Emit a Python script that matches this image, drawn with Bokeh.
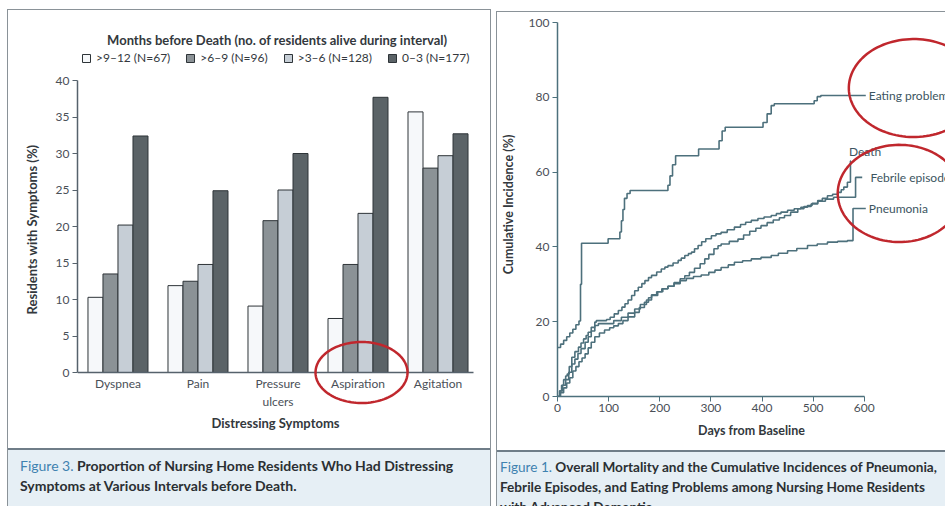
import numpy as np
from bokeh.plotting import figure
from bokeh.models import (Range1d, FixedTicker, Label, Legend, LegendItem,
                          PolyAnnotation, Div)
from bokeh.layouts import row, column
from bokeh.embed import file_html
from bokeh.resources import INLINE

# ---------------- Figure 3 data (bar chart) ----------------
symptoms = ["Dyspnea", "Pain", "Pressure\nulcers", "Aspiration", "Agitation"]
intervals = [">9–12 (N=67)", ">6–9 (N=96)", ">3–6 (N=128)", "0–3 (N=177)"]
pct_9_12 = [10.3, 11.9, 9.1, 7.4, 35.7]
pct_6_9 = [13.5, 12.5, 20.8, 14.8, 28.0]
pct_3_6 = [20.2, 14.8, 25.0, 21.8, 29.7]
pct_0_3 = [32.4, 24.9, 30.0, 37.7, 32.7]
bar_y_ticks = [0, 5, 10, 15, 20, 25, 30, 35, 40]

# ---------------- Figure 1 data (cumulative incidence) ----------------
death_days = [0, 4, 8, 12, 16, 19, 23, 28, 34, 41, 46, 51, 56, 60, 66, 73, 76, 96, 103, 111, 119, 126,
              132, 138, 145, 151, 158, 165, 171, 178, 184, 194, 203, 210, 216, 226, 236, 242, 249, 256,
              262, 268, 275, 282, 290, 301, 310, 320, 332, 346, 358, 368, 379, 392, 404, 418, 428, 437,
              450, 463, 476, 489, 498, 509, 518, 528, 538, 548, 555, 560, 567, 573, 574]
death_pct = [0, 1.5, 3, 4.5, 5.5, 6, 8, 10.5, 12, 13.2, 14.3, 15.4, 16.3, 17.2, 18.5, 19.9, 20.3, 20.6,
             21.2, 22.1, 23, 23.9, 24.8, 25.8, 27, 28.3, 29.2, 30.2, 31, 31.8, 32.4, 33.3, 34.1, 34.6, 35,
             35.7, 36.4, 37, 37.7, 38.2, 38.6, 39.5, 40.4, 41.4, 42.2, 43, 43.5, 43.9, 44.6, 45.3, 46, 46.6,
             47.1, 47.6, 48, 48.4, 48.9, 49.3, 49.8, 50.2, 50.6, 51.1, 51.7, 52.4, 53, 53.7, 54.1, 54.6,
             55.3, 56, 57.3, 63, 63]
febrile_days = [0, 5, 10, 16, 22, 28, 34, 40, 46, 54, 60, 66, 73, 80, 110, 125, 138, 151, 162, 174, 184,
                196, 206, 216, 228, 240, 249, 258, 268, 279, 288, 296, 306, 314, 320, 336, 353, 364, 376,
                388, 398, 410, 422, 434, 444, 456, 470, 482, 496, 509, 524, 540, 583, 596]
febrile_pct = [0, 1.5, 3, 4.5, 6.5, 8.7, 10, 11.5, 12.8, 14.5, 16, 17.5, 19, 19.5, 20.3, 21.2, 22.3, 23.4,
               24.6, 25.8, 27, 28, 28.8, 29.5, 30.5, 31.5, 32.3, 33.2, 34.3, 35.5, 36.8, 38, 39.5, 40.3,
               40.8, 41.5, 42.1, 43.2, 44.2, 45, 45.7, 46.5, 47.2, 47.8, 48.4, 49.3, 50.2, 50.8, 51.5, 52.2,
               52.8, 53.3, 58.6, 58.6]
pneumonia_days = [0, 6, 12, 18, 24, 30, 36, 42, 48, 54, 60, 66, 73, 82, 92, 102, 110, 119, 128, 138, 151,
                  160, 170, 178, 184, 194, 204, 216, 228, 240, 252, 266, 281, 296, 308, 320, 334, 346, 362,
                  379, 398, 418, 432, 450, 468, 489, 508, 528, 548, 567, 578, 603]
pneumonia_pct = [0, 1, 2.3, 3.6, 5, 6.8, 8, 9.3, 10.3, 11.4, 13, 14.5, 16, 17, 17.8, 18.4, 18.9, 19.5, 20.3,
                 21.3, 22.5, 23.8, 25.2, 26.4, 27.2, 28, 28.8, 29.5, 30.2, 31, 31.6, 32.1, 32.5, 33.2, 33.8,
                 34.5, 35.2, 35.9, 36.3, 36.8, 37.2, 37.7, 38.3, 39, 39.6, 40.4, 40.8, 41.3, 41.5, 41.7,
                 50.3, 50.3]
eating_days = [0, 6, 12, 18, 24, 30, 36, 42, 45, 47, 99, 122, 125, 128, 131, 136, 142, 216, 220, 225, 231,
               276, 316, 322, 328, 402, 410, 418, 424, 502, 508, 515, 603]
eating_pct = [13.1, 14, 15, 16, 17, 18, 19.2, 20.2, 30, 41, 42.2, 44, 47, 50, 53, 54.3, 55.1, 56.5, 59, 62,
              64.4, 66.2, 68.4, 71, 72, 73.3, 75.6, 77.8, 78.3, 79.1, 80.2, 80.5, 80.5]
curve_labels = ["Eating problems", "Febrile episodes", "Pneumonia", "Death"]
km_x_ticks = [0, 100, 200, 300, 400, 500, 600]
km_y_ticks = [0, 20, 40, 60, 80, 100]

FONT = "Lato"
TXT = "#33383d"
TICK_TXT = "#4a5057"
AXIS = "#56626c"
RED = "#c0272d"
PANEL_LINE = "#8a9298"


def ellipse_pts(cx, cy, rx, ry, n=120):
    t = np.linspace(0, 2 * np.pi, n)
    return list(cx + rx * np.cos(t)), list(cy + ry * np.sin(t))


# ====================== LEFT PANEL ======================
BW = 0.1875
pl = figure(width=482, height=438, x_range=Range1d(-0.506, 4.656), y_range=Range1d(-10.41, 49.59),
            output_backend="svg", toolbar_location=None, min_border_left=69, min_border_right=0,
            min_border_top=0, min_border_bottom=0, outline_line_color=None)
pl.grid.visible = False
pl.title.text = ""

xs = np.arange(len(symptoms))
fills = ["#f6f8fa", "#8b9296", "#c6ced6", "#5b6367"]
series = [pct_9_12, pct_6_9, pct_3_6, pct_0_3]
items = []
for i, (vals, fc) in enumerate(zip(series, fills)):
    r = pl.vbar(x=xs + (i - 1.5) * BW, top=vals, width=BW, fill_color=fc,
                line_color="#2e3438", line_width=1)
    items.append(LegendItem(label=intervals[i], renderers=[r]))

leg = Legend(items=items, orientation="horizontal", location=(4, 383), label_text_font=FONT,
             label_text_font_size="12px", label_text_color=TXT, glyph_width=10, glyph_height=10,
             label_standoff=5, spacing=15, padding=0, margin=0, border_line_color=None,
             background_fill_alpha=0, label_height=14)
pl.add_layout(leg)

pl.add_layout(Label(x=1.99, y=45.5, text="Months before Death (no. of residents alive during interval)",
                    text_align="center", text_baseline="middle", text_font=FONT,
                    text_font_size="13px", text_font_style="bold", text_color=TXT))

xa = pl.xaxis[0]
xa.fixed_location = 0
xa.ticker = FixedTicker(ticks=list(range(len(symptoms))))
xa.major_label_overrides = {int(i): s for i, s in enumerate(symptoms)}
xa.bounds = (-0.506, 4.44)
xa.major_tick_line_color = None
xa.major_tick_out = 0
xa.major_tick_in = 0
xa.minor_tick_line_color = None
xa.axis_line_color = AXIS
xa.axis_line_width = 1.5
xa.major_label_standoff = 3
xa.major_label_text_font = FONT
xa.major_label_text_font_size = "12px"
xa.major_label_text_color = TICK_TXT
xa.axis_label = "Distressing Symptoms"
xa.axis_label_text_font = FONT
xa.axis_label_text_font_size = "13px"
xa.axis_label_text_font_style = "bold"
xa.axis_label_text_color = TXT
xa.axis_label_standoff = 3

ya = pl.yaxis[0]
ya.ticker = FixedTicker(ticks=bar_y_ticks)
ya.bounds = (0, 40)
ya.major_tick_out = 5
ya.major_tick_in = 0
ya.minor_tick_line_color = None
ya.axis_line_color = AXIS
ya.axis_line_width = 1.5
ya.major_tick_line_color = AXIS
ya.major_label_standoff = 3
ya.major_label_text_font = FONT
ya.major_label_text_font_size = "12px"
ya.major_label_text_color = TICK_TXT
ya.axis_label = "Residents with Symptoms (%)"
ya.axis_label_text_font = FONT
ya.axis_label_text_font_size = "13px"
ya.axis_label_text_font_style = "bold"
ya.axis_label_text_color = TXT
ya.axis_label_standoff = 13

ex, ey = ellipse_pts(3.044, 0.0, 0.575, 4.18)
pl.add_layout(PolyAnnotation(xs=ex, ys=ey, fill_alpha=0, line_color=RED, line_alpha=1, line_width=2.5))


def caption(html, w, h, pad, size):
    inner = ('<div style="box-sizing:border-box;width:%dpx;height:%dpx;border-top:2px solid #6f7d88;'
             'padding:%s;font-family:Lato;font-size:%s;font-weight:bold;color:#2b2f33;line-height:20px;'
             'white-space:nowrap;overflow:hidden;background-color:#e6eff5">%s</div>') % (w, h, pad, size, html)
    return Div(text=inner, width=w, height=h, styles={"overflow": "hidden", "padding": "0", "margin": "0"})


div_l = caption('<span style="color:#3f82b0;font-weight:normal">Figure 3.</span> Proportion of Nursing '
                'Home Residents Who Had Distressing<br>Symptoms at Various Intervals before Death.',
                482, 58, "6px 12px", "14px")

# ====================== RIGHT PANEL ======================
pr = figure(width=448, height=438, x_range=Range1d(0, 758.9), y_range=Range1d(0, 102.7),
            output_backend="svg", toolbar_location=None, min_border_left=59, min_border_right=0,
            min_border_top=0, min_border_bottom=54, outline_line_color=None)
pr.grid.visible = False
pr.title.text = ""

CURVE = "#4d707c"
for dx, dy in [(eating_days, eating_pct), (febrile_days, febrile_pct),
               (pneumonia_days, pneumonia_pct), (death_days, death_pct)]:
    pr.step(dx, dy, mode="after", line_color=CURVE, line_width=1.6)

lab_kw = dict(text_font=FONT, text_font_size="12px", text_color="#3c5561", text_baseline="middle")
pr.add_layout(Label(x=609, y=eating_pct[-1], text=curve_labels[0], **lab_kw))
pr.add_layout(Label(x=612, y=febrile_pct[-1], text=curve_labels[1], **lab_kw))
pr.add_layout(Label(x=609, y=pneumonia_pct[-1], text=curve_labels[2], **lab_kw))
pr.add_layout(Label(x=570, y=65.5, text=curve_labels[3], **lab_kw))

rx = pr.xaxis[0]
rx.ticker = FixedTicker(ticks=km_x_ticks)
rx.bounds = (0, 600)
rx.major_tick_out = 5
rx.major_tick_in = 0
rx.minor_tick_line_color = None
rx.axis_line_color = CURVE
rx.axis_line_width = 1.5
rx.major_tick_line_color = CURVE
rx.major_label_standoff = 2
rx.major_label_text_font = FONT
rx.major_label_text_font_size = "12px"
rx.major_label_text_color = TICK_TXT
rx.axis_label = "Days from Baseline"
rx.axis_label_text_font = FONT
rx.axis_label_text_font_size = "12.5px"
rx.axis_label_text_font_style = "bold"
rx.axis_label_text_color = TXT
rx.axis_label_standoff = 8

ry = pr.yaxis[0]
ry.ticker = FixedTicker(ticks=km_y_ticks)
ry.bounds = (0, 100)
ry.major_tick_out = 5
ry.major_tick_in = 0
ry.minor_tick_line_color = None
ry.axis_line_color = CURVE
ry.axis_line_width = 1.5
ry.major_tick_line_color = CURVE
ry.major_label_standoff = 3
ry.major_label_text_font = FONT
ry.major_label_text_font_size = "12px"
ry.major_label_text_color = TICK_TXT
ry.axis_label = "Cumulative Incidence (%)"
ry.axis_label_text_font = FONT
ry.axis_label_text_font_size = "12.5px"
ry.axis_label_text_font_style = "bold"
ry.axis_label_text_color = TXT
ry.axis_label_standoff = 10

for cx, cy, ax, ay in [(696.5, 82.5, 126.7, 13.1), (669.0, 54.3, 120.9, 13.0)]:
    px, py = ellipse_pts(cx, cy, ax, ay)
    pr.add_layout(PolyAnnotation(xs=px, ys=py, fill_alpha=0, line_color=RED, line_alpha=1,
                                 line_width=2.5))

div_r = caption('<span style="color:#3f82b0;font-weight:normal">Figure 1.</span> Overall Mortality and '
                'the Cumulative Incidences of Pneumonia,<br>Febrile Episodes, and Eating Problems among '
                'Nursing Home Residents<br>with Advanced Dementia.',
                448, 56, "5px 3px 0px 3px", "13.6px")

panel_style = {"outline": "1px solid " + PANEL_LINE}
col_l = column(pl, div_l, spacing=0, margin=(10, 0, 0, 8), styles=panel_style)
col_r = column(pr, div_r, spacing=0, margin=(12, 0, 0, 7), styles=panel_style)
layout = row(col_l, col_r, spacing=0)
open("out.html", "w").write(file_html(layout, INLINE))
